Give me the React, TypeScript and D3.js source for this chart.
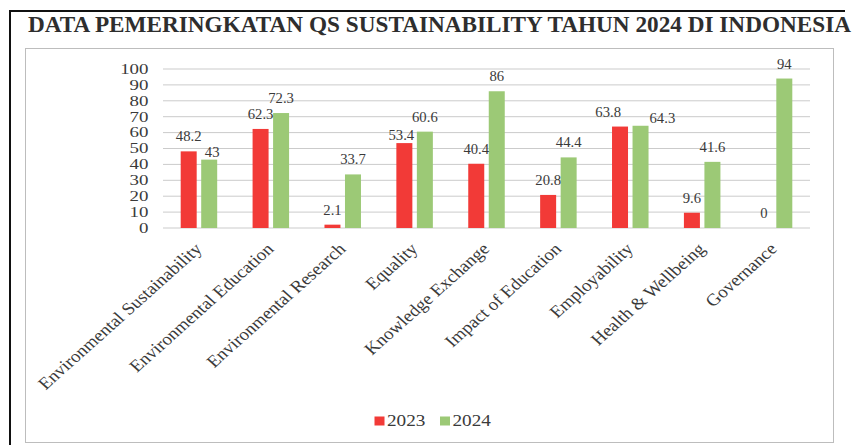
import React from "react";
import * as d3 from "d3";

const title = "DATA PEMERINGKATAN QS SUSTAINABILITY TAHUN 2024 DI INDONESIA";
const categories = [
  "Environmental Sustainability",
  "Environmental Education",
  "Environmental Research",
  "Equality",
  "Knowledge Exchange",
  "Impact of Education",
  "Employability",
  "Health & Wellbeing",
  "Governance",
];
const years = ["2023", "2024"];
const values2023 = [48.2, 62.3, 2.1, 53.4, 40.4, 20.8, 63.8, 9.6, 0];
const values2024 = [43, 72.3, 33.7, 60.6, 86, 44.4, 64.3, 41.6, 94];
const yTicks = [0, 10, 20, 30, 40, 50, 60, 70, 80, 90, 100];

const colors: Record<string, string> = { "2023": "#f23a37", "2024": "#9cc976" };
const FONT = "Liberation Serif, Tinos, Times New Roman, DejaVu Serif, serif";
const TXT = "#3a3a3a";

export default function App() {
  const W = 854, H = 445;
  const plotL = 163, plotR = 810, plotB = 228, plotT = 69;

  const x0 = d3.scaleBand<string>().domain(categories).range([plotL, plotR]).paddingInner(0).paddingOuter(0);
  const bw = x0.bandwidth();
  const x1 = d3.scaleBand<string>().domain(years).range([bw / 2 - 18.25, bw / 2 + 18.25]).paddingInner(0.22);
  const y = d3.scaleLinear().domain([0, 100]).range([plotB, plotT]);

  const seriesVals: Record<string, number[]> = { "2023": values2023, "2024": values2024 };

  const labels: { x: number; y: number; anchor: string; text: string }[] = [];
  categories.forEach((c, i) => {
    const a = values2023[i], b = values2024[i];
    const xa = (x0(c) as number) + (x1("2023") as number) + x1.bandwidth() / 2;
    const xb = (x0(c) as number) + (x1("2024") as number) + x1.bandwidth() / 2;
    let la = { x: xa, y: y(a) - 10, anchor: "middle", text: String(a) };
    let lb = { x: xb, y: y(b) - 10, anchor: "middle", text: String(b) };
    const dy = Math.abs(y(a) - y(b));
    if (dy <= 3) {
      la = { x: xa + 1, y: y(a) - 10, anchor: "end", text: String(a) };
      lb = { x: xb + x1.bandwidth() / 2 + 1, y: y(b) - 3, anchor: "start", text: String(b) };
    } else if (dy < 12) {
      if (a < b) { la.y += 7; la.x -= 3; } else { lb.y += 7; lb.x += 3; }
    }
    labels.push(la, lb);
  });

  return (
    <svg width={W} height={H} style={{ position: "absolute", left: 0, top: 0, background: "#fff" }}>
      <rect x={0} y={0} width={W} height={H} fill="#fff" />
      <line x1={10} y1={11} x2={845} y2={11} stroke="#111" strokeWidth={2} />
      <line x1={10} y1={10} x2={10} y2={445} stroke="#111" strokeWidth={2} />
      <rect x={25.5} y={48.5} width={808} height={394} fill="none" stroke="#bdbdbd" strokeWidth={1} />
      <text x={28} y={31.5} style={{ fontFamily: FONT }} fontWeight="bold" fontSize={23} fill="#2e2e2e"
        textLength={823} lengthAdjust="spacingAndGlyphs">{title}</text>

      {yTicks.map((t) => (
        <line key={t} x1={plotL} x2={plotR} y1={y(t)} y2={y(t)} stroke="#cbcbcb" strokeWidth={1} />
      ))}
      {yTicks.map((t) => (
        <text key={"l" + t} transform={`translate(148.5,${y(t) + 4.8}) scale(1.35,1)`} textAnchor="end"
          style={{ fontFamily: FONT }} fontSize={14} fill={TXT}>{t}</text>
      ))}

      {categories.map((c, i) => (
        <g key={c} transform={`translate(${x0(c)},0)`}>
          {years.map((yr) => {
            const v = seriesVals[yr][i];
            return (
              <rect key={yr} x={x1(yr)} y={y(v)} width={x1.bandwidth()} height={plotB - y(v)} fill={colors[yr]} />
            );
          })}
        </g>
      ))}

      {labels.map((l, i) => (
        <text key={"v" + i} transform={`translate(${l.x},${l.y}) scale(1.05,1)`} textAnchor={l.anchor}
          style={{ fontFamily: FONT }} fontSize={14} fill={TXT}>{l.text}</text>
      ))}

      {categories.map((c) => (
        <text key={"c" + c}
          transform={`translate(${(x0(c) as number) + bw / 2 + 4},${250}) scale(1.12,1) rotate(-45)`}
          textAnchor="end" style={{ fontFamily: FONT }} fontSize={17} fill={TXT}>{c}</text>
      ))}

      {years.map((yr, i) => (
        <g key={"lg" + yr} transform={`translate(${374.5 + i * 65.5},0)`}>
          <rect x={0} y={416.5} width={10} height={9} fill={colors[yr]} />
          <text transform={`translate(12.5,426) scale(1.2,1)`} style={{ fontFamily: FONT }} fontSize={16} fill={TXT}>{yr}</text>
        </g>
      ))}
    </svg>
  );
}
